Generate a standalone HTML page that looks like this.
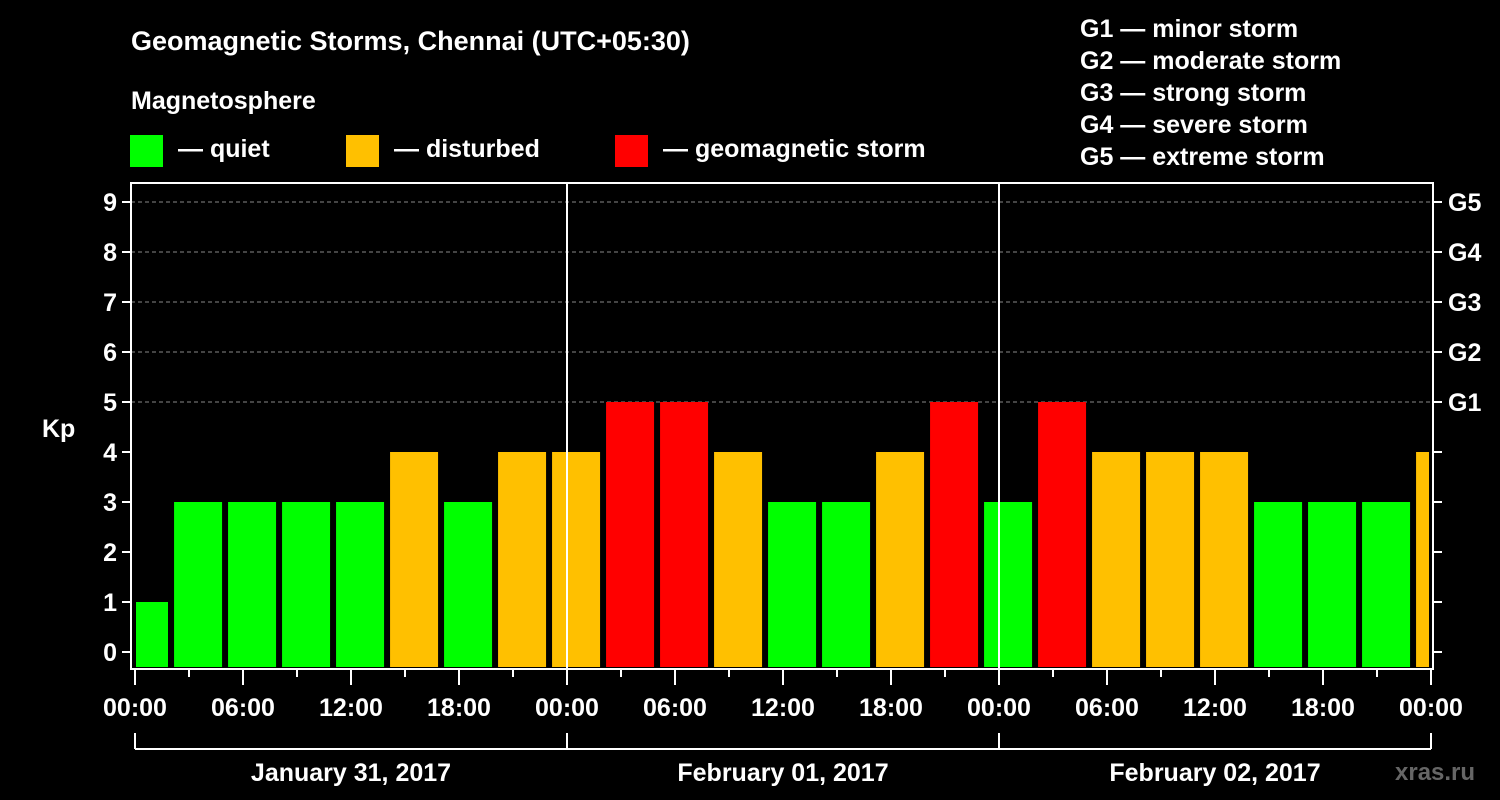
<!DOCTYPE html>
<html><head><meta charset="utf-8"><style>
html,body{margin:0;padding:0;background:#000;}
svg{display:block;}
text{font-family:"Liberation Sans",Arial,sans-serif;font-weight:bold;fill:#fff;}
</style></head><body>
<svg id="chart" width="1500" height="800" xmlns="http://www.w3.org/2000/svg">
<rect x="0" y="0" width="1500" height="800" fill="#000"/>
<text x="131" y="50" font-size="27">Geomagnetic Storms, Chennai (UTC+05:30)</text>
<text x="131" y="109" font-size="25">Magnetosphere</text>
<g><rect x="130" y="135" width="33" height="32" fill="#00ff00"/><text x="178" y="157" font-size="25">— quiet</text></g>
<g><rect x="346" y="135" width="33" height="32" fill="#ffc000"/><text x="394" y="157" font-size="25">— disturbed</text></g>
<g><rect x="615" y="135" width="33" height="32" fill="#ff0000"/><text x="663" y="157" font-size="25">— geomagnetic storm</text></g>
<g font-size="25">
<text x="1080" y="37">G1 — minor storm</text>
<text x="1080" y="69">G2 — moderate storm</text>
<text x="1080" y="101">G3 — strong storm</text>
<text x="1080" y="133">G4 — severe storm</text>
<text x="1080" y="165">G5 — extreme storm</text>
</g>
<text x="42" y="437" font-size="25">Kp</text>
<text x="1395" y="780" font-size="24" style="fill:#666">xras.ru</text>
<g id="plot"></g>
</svg>
<script>
const kpValues=[1,3,3,3,3,4,3,4,4,5,5,4,3,3,4,5,3,5,4,4,4,3,3,3,4];
const yTicks=[0,1,2,3,4,5,6,7,8,9];
const gLabels=["G1","G2","G3","G4","G5"];
const xTickLabels=["00:00","06:00","12:00","18:00","00:00","06:00","12:00","18:00","00:00","06:00","12:00","18:00","00:00"];
const dateLabels=["January 31, 2017","February 01, 2017","February 02, 2017"];

const NS="http://www.w3.org/2000/svg";
const plotG=document.getElementById('plot');
const X0=135, HOUR=18, pLeft=131, pRight=1433, plotTop=183, pBottom=669;
const yS=v=>652-v*50;
const xS=h=>X0+h*HOUR;
function mk(tag,attrs){const e=document.createElementNS(NS,tag);for(const k in attrs)e.setAttribute(k,attrs[k]);plotG.appendChild(e);return e;}
function color(v){return v>=5?'#ff0000':(v>=4?'#ffc000':'#00ff00');}

for(let v=5;v<=9;v++){
  const l=mk('line',{x1:pLeft,x2:pRight,y1:yS(v),y2:yS(v),stroke:'#888','stroke-dasharray':'4,3','stroke-width':1});
  
  
}
kpValues.forEach((v,i)=>{
  let x1,x2;
  if(i===0){x1=xS(0)+1;x2=xS(0)+33;}
  else{x1=xS(2.17+3*(i-1));x2=Math.min(x1+48,xS(72)-2);}
  const r=mk('rect',{x:x1,y:yS(v),width:x2-x1,height:pBottom-2-yS(v),fill:color(v)});
  
  
});
[24,48].forEach(h=>{
  const l=mk('line',{x1:xS(h),x2:xS(h),y1:plotTop,y2:pBottom,stroke:'#fff','stroke-width':2});
  
  
});
const fr=mk('rect',{x:pLeft,y:plotTop,width:pRight-pLeft,height:pBottom-plotTop,fill:'none',stroke:'#fff','stroke-width':2});


yTicks.forEach(v=>{
  mk('line',{x1:pLeft-9,x2:pLeft,y1:yS(v),y2:yS(v),stroke:'#fff','stroke-width':2});
  mk('line',{x1:pRight,x2:pRight+9,y1:yS(v),y2:yS(v),stroke:'#fff','stroke-width':2});
  const t=mk('text',{x:pLeft-14,y:yS(v)+9,'font-size':25,'text-anchor':'end'});
  t.textContent=v;
  
  
});
gLabels.forEach((g,i)=>{
  const t=mk('text',{x:1448,y:yS(5+i)+9,'font-size':25});
  t.textContent=g;
  
  
});
for(let h=0;h<=72;h+=3){
  const major=h%6===0;
  mk('line',{x1:xS(h),x2:xS(h),y1:pBottom,y2:pBottom+(major?16:8),stroke:'#fff','stroke-width':2});
}
xTickLabels.forEach((s,i)=>{
  const t=mk('text',{x:xS(i*6),y:716,'font-size':25,'text-anchor':'middle'});
  t.textContent=s;
  
  
});
mk('line',{x1:xS(0),x2:xS(72),y1:749,y2:749,stroke:'#fff','stroke-width':2});
[0,24,48,72].forEach(h=>mk('line',{x1:xS(h),x2:xS(h),y1:733,y2:749,stroke:'#fff','stroke-width':2}));
dateLabels.forEach((d,i)=>{
  const t=mk('text',{x:xS(12+24*i),y:781,'font-size':25,'text-anchor':'middle'});
  t.textContent=d;
  
  
});
</script>
</body></html>
